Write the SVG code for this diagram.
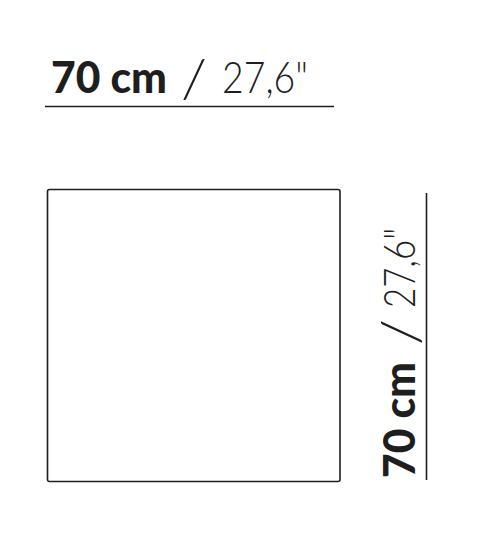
<svg xmlns="http://www.w3.org/2000/svg" width="478" height="533" viewBox="0 0 478 533">
<style>
.b{font-family:Lato,"Liberation Sans",Arial,sans-serif;font-weight:900;font-size:43px;fill:#1e1e1e}
.l{font-family:Lato,"Liberation Sans",sans-serif;font-weight:300;font-size:44px;fill:#1e1e1e}
.s{font-family:Lato,"Liberation Sans",sans-serif;font-weight:300;font-size:54px;fill:#1e1e1e}
.ln{stroke:#1e1e1e;stroke-width:1.6;fill:none}
</style>
<rect width="478" height="533" fill="#fff"/>
<g id="square"><rect class="ln" x="47.5" y="189.5" width="292.5" height="292" rx="2"/></g>
<g id="top-dim">
<text class="b" x="51" y="93" textLength="116" lengthAdjust="spacingAndGlyphs">70 cm</text>
<text class="s" x="181" y="97" textLength="26" lengthAdjust="spacingAndGlyphs">/</text>
<text class="l" x="222" y="93" textLength="86" lengthAdjust="spacingAndGlyphs">27,6"</text>
<line class="ln" x1="45" y1="106.5" x2="334" y2="106.5"/>
</g>
<g id="right-dim">
<g transform="translate(415,478) rotate(-90)">
<text class="b" x="0" y="0" textLength="116" lengthAdjust="spacingAndGlyphs">70 cm</text>
<text class="s" x="133" y="4" textLength="26" lengthAdjust="spacingAndGlyphs">/</text>
<text class="l" x="170" y="0" textLength="80" lengthAdjust="spacingAndGlyphs">27,6"</text>
</g>
<line class="ln" x1="426.5" y1="193" x2="426.5" y2="480"/>
</g>
</svg>
